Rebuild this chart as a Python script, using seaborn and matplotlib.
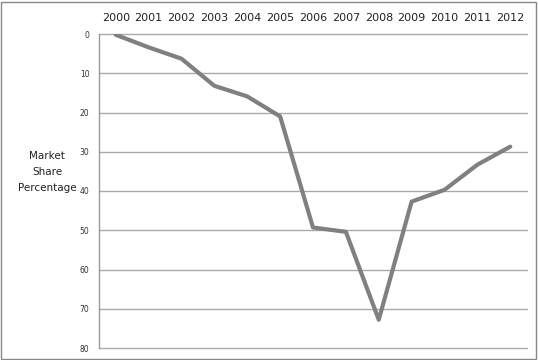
import matplotlib
matplotlib.use("Agg")
import matplotlib.pyplot as plt
import seaborn as sns
import pandas as pd
from matplotlib.patches import Rectangle

years = [2000, 2001, 2002, 2003, 2004, 2005, 2006, 2007, 2008, 2009, 2010, 2011, 2012]
market_share = [0.2, 3.4, 6.3, 13.2, 15.9, 21.0, 49.3, 50.4, 72.8, 42.7, 39.7, 33.3, 28.7]
y_ticks = [0, 10, 20, 30, 40, 50, 60, 70, 80]
y_label = "Market\nShare\nPercentage"

sns.set_theme(style="white")
plt.rcParams['font.family'] = ['DejaVu Sans']

df = pd.DataFrame({"year": years, "share": market_share})

fig = plt.figure(figsize=(5.38, 3.6), dpi=100)
ax = fig.add_axes([99.3 / 538, 1 - 348 / 360, (526.7 - 99.3) / 538, (348 - 34) / 360])

sns.lineplot(data=df, x="year", y="share", ax=ax, color="#808080", linewidth=3.0,
             legend=False)

ax.set_xlim(years[0] - 0.5, years[-1] + 0.5)
ax.set_ylim(80, 0)
ax.set_yticks(y_ticks)
ax.set_yticklabels([str(t) for t in y_ticks], fontsize=5.5, color="#333333")
ax.set_xticks(years)
ax.set_xticklabels([str(y) for y in years], fontsize=8, color="#222222")
ax.xaxis.tick_top()
ax.tick_params(axis="x", length=0, pad=8)
ax.tick_params(axis="y", length=0, pad=7)
ax.yaxis.grid(True, color="#aaaaaa", linewidth=1.0)
ax.xaxis.grid(False)
ax.set_axisbelow(True)
for gl in ax.get_ygridlines():
    gl.set_clip_on(False)
for s in ["top", "right", "bottom"]:
    ax.spines[s].set_visible(False)
ax.spines["left"].set_color("#999999")
ax.spines["left"].set_linewidth(1.0)
ax.set_xlabel("")
ax.set_ylabel("")

fig.text(47 / 538, 1 - 172 / 360, y_label, ha="center", va="center", fontsize=7.5,
         color="#222222", linespacing=1.8)

fig.patches.append(Rectangle((1 / 538, 1 / 360), 1 - 3 / 538, 1 - 3 / 360,
                             transform=fig.transFigure, fill=False,
                             edgecolor="#888888", linewidth=1.0))

fig.savefig("out.png", dpi=100)
